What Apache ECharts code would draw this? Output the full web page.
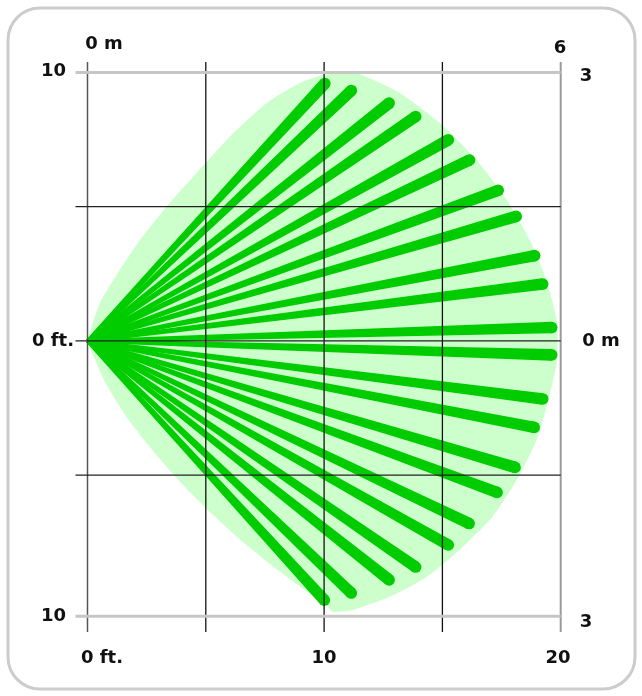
<!DOCTYPE html>
<html><head><meta charset="utf-8">
<script src="https://cdn.jsdelivr.net/npm/echarts@6/dist/echarts.min.js"></script>
<style>html,body{margin:0;padding:0;background:#fff}#c{width:642px;height:696px}</style>
</head><body><div id="c"></div>
<script>
// Beam end points (feet): x = distance, y = lateral offset
const beamX = [10.03, 11.15, 12.75, 13.87, 15.25, 16.15, 17.36, 18.12, 18.90, 19.24, 19.62,
               19.62, 19.24, 18.88, 18.07, 17.31, 16.13, 15.25, 13.87, 12.75, 11.15, 10.01];
const beamY = [9.59, 9.33, 8.86, 8.36, 7.49, 6.74, 5.61, 4.64, 3.18, 2.12, 0.50,
               -0.52, -2.16, -3.22, -4.71, -5.64, -6.80, -7.60, -8.42, -8.90, -9.39, -9.65];
// Coverage zone outline (feet)
const zoneX = [0, 0.53, 1.37, 2.22, 3.34, 4.61, 6.02, 7.57, 8.97, 9.94, 10.66, 11.38, 13.20, 14.89, 16.45, 17.72,
               18.69, 19.40, 19.83, 19.87, 19.83, 19.45, 18.98, 18.14, 17.12, 15.73, 14.34, 12.77, 11.21, 10.37,
               10.10, 9.26, 8.13, 6.72, 5.31, 3.91, 2.92, 1.79, 0.81, 0.11];
const zoneY = [0, 1.42, 2.65, 3.76, 5.00, 6.26, 7.61, 8.86, 9.61, 9.91, 10.0, 9.98, 9.24, 8.12, 6.74, 5.25,
               3.76, 2.27, 0.78, 0.04, -0.82, -2.31, -3.69, -5.18, -6.55, -7.78, -8.79, -9.53, -10.02, -10.09,
               -9.83, -9.33, -8.59, -7.60, -6.48, -5.24, -4.25, -3.00, -1.64, -0.27];
// Grid lines (feet)
const gridXs = [0, 5, 10, 15, 20];
const gridYs = [10, 5, 0, -5, -10.25];
// Labels
const leftLabels = ['10', '0 ft.', '10'];
const rightLabels = ['3', '0 m', '3'];
const bottomLabels = ['0 ft.', '10', '20'];
const topLabels = ['0 m', '6'];

const chart = echarts.init(document.getElementById('c'), null, {renderer: 'canvas'});
const X_MIN = 0, X_MAX = 20, Y_MIN = -10.84, Y_MAX = 10.39;
const BEAM = '#00cc00', ZONE = '#ccffcc';

function vStyle(i){
  if (i === 0) return {stroke: '#555', lineWidth: 1.5};
  if (i === gridXs.length - 1) return {stroke: '#9a9a9a', lineWidth: 2};
  return {stroke: '#111', lineWidth: 1.3};
}
function hStyle(i){
  if (i === 0 || i === gridYs.length - 1) return {stroke: '#c6c6c6', lineWidth: 3};
  return {stroke: '#222', lineWidth: 1.3};
}

const font = 'bold 18px "DejaVu Sans", Verdana, sans-serif';
function txt(x, y, s, align){
  return {type: 'text', x: x, y: y, style: {text: s, font: font, fill: '#111', align: align || 'center', verticalAlign: 'middle'}};
}

chart.setOption({
  animation: false,
  grid: {left: 87.5, right: 81.3, top: 62, bottom: 64},
  xAxis: {type: 'value', min: X_MIN, max: X_MAX, show: false},
  yAxis: {type: 'value', min: Y_MIN, max: Y_MAX, show: false},
  graphic: [
    {type: 'rect', shape: {x: 8, y: 8, width: 627, height: 681, r: 32}, style: {fill: 'none', stroke: '#cccccc', lineWidth: 3}, z: -10},
    txt(104, 44, topLabels[0]),
    txt(560, 48, topLabels[1]),
    txt(66, 71, leftLabels[0], 'right'),
    txt(74, 341, leftLabels[1], 'right'),
    txt(66, 616, leftLabels[2], 'right'),
    txt(586, 76, rightLabels[0]),
    txt(601, 341, rightLabels[1]),
    txt(586, 622, rightLabels[2]),
    txt(102, 658, bottomLabels[0]),
    txt(324, 658, bottomLabels[1]),
    txt(558, 658, bottomLabels[2])
  ],
  series: [
    {
      type: 'custom', z: 1, clip: false,
      data: [[0, 0]],
      renderItem: function(params, api){
        const pts = zoneX.map((x, i) => api.coord([x, zoneY[i]]));
        return {type: 'polygon', shape: {points: pts, smooth: 0.2}, style: {fill: ZONE}};
      }
    },
    {
      type: 'custom', z: 2, clip: false,
      data: beamX.map((x, i) => [x, beamY[i]]),
      renderItem: function(params, api){
        const o = api.coord([0, 0]);
        const e = api.coord([api.value(0), api.value(1)]);
        const dx = e[0] - o[0], dy = e[1] - o[1];
        const L = Math.hypot(dx, dy);
        const nx = -dy / L, ny = dx / L;
        const w0 = 1.8, w1 = 5.8;
        return {type: 'group', children: [
          {type: 'polygon', shape: {points: [
            [o[0] + nx * w0, o[1] + ny * w0], [e[0] + nx * w1, e[1] + ny * w1],
            [e[0] - nx * w1, e[1] - ny * w1], [o[0] - nx * w0, o[1] - ny * w0]]},
            style: {fill: BEAM}},
          {type: 'circle', shape: {cx: e[0], cy: e[1], r: w1}, style: {fill: BEAM}}
        ]};
      }
    },
    {
      type: 'custom', z: 3, clip: false,
      data: gridXs.map(x => [x]),
      renderItem: function(params, api){
        const a = api.coord([api.value(0), Y_MAX]);
        const b = api.coord([api.value(0), Y_MIN]);
        return {type: 'line', shape: {x1: a[0], y1: a[1], x2: b[0], y2: b[1]}, style: vStyle(params.dataIndex)};
      }
    },
    {
      type: 'custom', z: 4, clip: false,
      data: gridYs.map(y => [0, y]),
      renderItem: function(params, api){
        const a = api.coord([X_MIN, api.value(1)]);
        const b = api.coord([X_MAX, api.value(1)]);
        return {type: 'line', shape: {x1: a[0] - 12, y1: a[1], x2: b[0], y2: b[1]}, style: hStyle(params.dataIndex)};
      }
    }
  ]
});
</script>
</body></html>
